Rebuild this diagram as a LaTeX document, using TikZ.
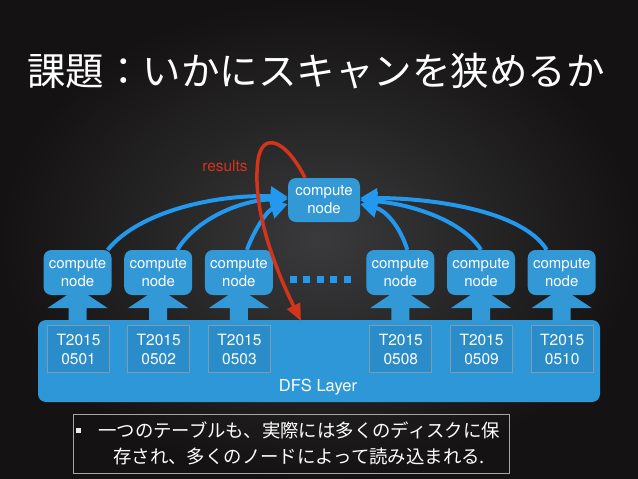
\documentclass[tikz,border=0pt]{standalone}
\usepackage{fontspec}
\setmainfont{TeX Gyre Heros}
\newfontfamily\cjk{Noto Sans CJK JP}
\usetikzlibrary{arrows.meta}
\definecolor{bgin}{HTML}{3A3A3C}
\definecolor{bgout}{HTML}{141212}
\definecolor{nodeblue}{HTML}{3398D6}
\definecolor{layerblue}{HTML}{2E97D8}
\definecolor{tblue}{HTML}{2A8CC8}
\definecolor{tborder}{HTML}{7E9CB0}
\definecolor{arrowblue}{HTML}{2298EE}
\definecolor{resred}{HTML}{D2341C}
\tikzset{
  cnode/.style={fill=nodeblue, rounded corners=8pt, minimum width=68pt, minimum height=45pt,
    text=white, font=\fontsize{15}{18}\selectfont, align=center, inner sep=0pt},
  tbox/.style={fill=tblue, draw=tborder, line width=1pt, minimum width=62pt, minimum height=47pt,
    text=white, font=\fontsize{15.5}{19}\selectfont, align=center, inner sep=0pt},
  uparrow/.style={fill=nodeblue},
  flow/.style={draw=arrowblue, line width=4pt, -{Triangle[length=17pt,width=19pt]}},
  resarrow/.style={draw=resred, line width=3.5pt, -{Triangle[length=17pt,width=14pt]}},
  dot/.style={fill=arrowblue, minimum size=7pt, inner sep=0pt},
}
\begin{document}
\begin{tikzpicture}[x=1pt,y=-1pt]
\useasboundingbox (0,0) rectangle (638,479);
\fill[inner color=bgin, outer color=bgout] (0,0) rectangle (638,479);

% title
\node[text=white, font=\cjk\fontsize{38.5}{44}\selectfont, inner sep=0pt] (title) at (316,71) {課題：いかにスキャンを狭めるか};

% DFS layer
\node[fill=layerblue, rounded corners=8pt, minimum width=562pt, minimum height=82pt, inner sep=0pt] (dfs) at (319,361) {};
\node[text=white, font=\fontsize{16.5}{18}\selectfont, inner sep=0pt] (dfslabel) at (318,387) {DFS Layer};

% up block arrows
\foreach \cx in {77.5,158.2,238.9,400.3,481,561.7}{
  \fill[uparrow] (\cx-9,322) -- (\cx-9,308) -- (\cx-30,308) -- (\cx,288) -- (\cx+30,308) -- (\cx+9,308) -- (\cx+9,322) -- cycle;
}

% T boxes
\node[tbox] (t1) at (78.5,349) {T2015\\0501};
\node[tbox] (t2) at (158.7,349) {T2015\\0502};
\node[tbox] (t3) at (239.4,349) {T2015\\0503};
\node[tbox] (t8) at (400.8,349) {T2015\\0508};
\node[tbox] (t9) at (481.5,349) {T2015\\0509};
\node[tbox] (t10) at (562.2,349) {T2015\\0510};

% bottom compute nodes
\node[cnode] (b1) at (77.5,272.5) {compute\\node};
\node[cnode] (b2) at (158.2,272.5) {compute\\node};
\node[cnode] (b3) at (238.9,272.5) {compute\\node};
\node[cnode] (b8) at (400.3,272.5) {compute\\node};
\node[cnode] (b9) at (481,272.5) {compute\\node};
\node[cnode] (b10) at (561.7,272.5) {compute\\node};

% dots
\node[dot] (d1) at (293,279.5) {};
\node[dot] (d2) at (306.5,279.5) {};
\node[dot] (d3) at (320,279.5) {};
\node[dot] (d4) at (333.5,279.5) {};
\node[dot] (d5) at (347,279.5) {};

% top compute node
\node[cnode, minimum width=72pt, minimum height=44pt] (top) at (324,200) {compute\\node};

% blue flows
\draw[flow] ([xshift=-4pt]b1.north east) .. controls (140,210) and (220,194) .. ([yshift=3pt]top.west);
\draw[flow] ([xshift=-15pt]b2.north east) .. controls (195,220) and (240,200) .. ([yshift=1pt]top.west);
\draw[flow] ([xshift=8pt]b3.north) .. controls (255,228) and (268,210) .. ([yshift=-4pt]top.west);
\draw[flow] ([xshift=7pt]b8.north) .. controls (400,226) and (385,210) .. ([yshift=-4pt]top.east);
\draw[flow] (b9.north) .. controls (462,220) and (410,204) .. ([yshift=0pt]top.east);
\draw[flow] ([xshift=-15pt]b10.north) .. controls (522,210) and (430,198) .. ([yshift=2pt]top.east);

% results
\node[text=resred, font=\fontsize{15.5}{18}\selectfont, inner sep=0pt] (res) at (225,166) {results};
\coordinate (resend) at (301,321);
\draw[resarrow] ([xshift=-19pt]top.north) .. controls (285,138) and (262,132) .. (258,160) .. controls (252,205) and (272,262) .. (resend);

% bottom text
\node[draw=gray!70, line width=0.6pt, minimum width=436pt, minimum height=59pt, inner sep=0pt] (box) at (291,443.5) {};
\node[fill=white!85!gray, minimum size=5pt, inner sep=0pt] (bullet) at (78.5,430) {};
\node[text=white, font=\cjk\fontsize{18.4}{22}\selectfont, anchor=west, inner sep=0pt] (line1) at (98,430) {一つのテーブルも、実際には多くのディスクに保};
\node[text=white, font=\cjk\fontsize{18.4}{22}\selectfont, anchor=west, inner sep=0pt] (line2) at (113,457) {存され、多くのノードによって読み込まれる.};
\end{tikzpicture}
\end{document}
